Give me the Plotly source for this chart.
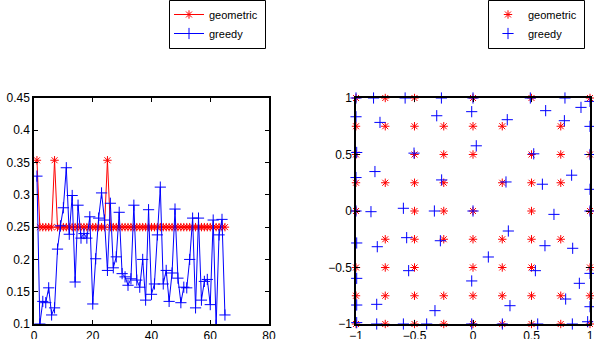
import plotly.graph_objects as go

# ---------------- data ----------------
idx = list(range(1, 66))

geometric_vals = [0.3536 if i in (1, 7, 25) else 0.25 for i in idx]

greedy_vals = [
    0.329, 0.100, 0.135, 0.133, 0.156, 0.114, 0.125, 0.216, 0.252, 0.280,
    0.342, 0.239, 0.299, 0.165, 0.284, 0.233, 0.240, 0.233, 0.266, 0.131,
    0.201, 0.264, 0.303, 0.261, 0.183, 0.287, 0.187, 0.204, 0.273, 0.178,
    0.173, 0.160, 0.170, 0.284, 0.168, 0.157, 0.200, 0.137, 0.277, 0.146,
    0.162, 0.238, 0.312, 0.162, 0.183, 0.135, 0.179, 0.278, 0.171, 0.133,
    0.157, 0.156, 0.200, 0.264, 0.125, 0.264, 0.137, 0.166, 0.169, 0.130,
    0.261, 0.098, 0.238, 0.262, 0.114,
]

# geometric points (right panel), row by row
geo_rows = [
    (1.0,   [-1, -0.75, -0.5, 0, 0.5, 1]),
    (0.75,  [-1, -0.75, -0.5, -0.25, 0, 0.25, 0.75]),
    (0.5,   [-1, -0.5, -0.25, 0, 0.5, 0.75, 1]),
    (0.25,  [-1, -0.75, -0.5, -0.25, 0.25, 0.5, 0.75]),
    (0.0,   [-1, -0.5, -0.25, 0, 0.5, 1]),
    (-0.25, [-0.75, -0.5, -0.25, 0, 0.25, 0.5, 0.75]),
    (-0.5,  [-1, -0.75, -0.5, 0, 0.25, 0.5, 1]),
    (-0.75, [-1, -0.75, -0.5, -0.25, 0, 0.25, 0.5, 0.75, 1]),
    (-1.0,  [-1, -0.75, -0.5, -0.25, 0, 0.25, 0.5, 0.75, 1]),
]
geo_x = [x for y, xs in geo_rows for x in xs]
geo_y = [y for y, xs in geo_rows for x in xs]

greedy_x = [
    -1, -0.85, -0.58, -0.27, 0, 0.49, 0.786, 1,
    -1, -0.795, -0.31, -0.011, 0.293, 0.621, 0.923, 0.781, 1,
    -0.994, -0.504, 0.028, 0.519, 1,
    -1, -0.838, -0.268, 0.282, 0.593, 0.843, 1,
    -1, -0.872, -0.595, -0.33, 0, 0.692, 1,
    -0.994, -0.818, -0.567, -0.279, 0.302, 0.615, 0.852, 0.131,
    -0.55, 0.533, -0.994, -0.011, 0.909, 1,
    -0.994, -0.823, -0.325, 0.316, 0.792, 1,
    -0.994, -0.823, -0.595, -0.396, -0.011, 0.251, 0.553, 0.849, 0.98,
]
greedy_y = [
    1, 1, 1, 1, 1, 1, 1, 0.97,
    0.834, 0.784, 0.843, 0.879, 0.808, 0.888, 0.917, 0.799, 0.749,
    0.518, 0.512, 0.577, 0.506, 0.5,
    0.296, 0.349, 0.275, 0.257, 0.237, 0.317, 0.192,
    0, -0.006, 0.024, 0, 0, -0.03, 0,
    -0.283, -0.316, -0.236, -0.263, -0.177, -0.307, -0.330, -0.407,
    -0.528, -0.528, -0.596, -0.619, -0.640, -0.552,
    -0.832, -0.826, -0.882, -0.838, -0.779, -0.847,
    -0.988, -1, -1, -1, -1, -1, -1, -1, -0.98,
]

left_xticks = [0, 20, 40, 60, 80]
left_yticks = [0.1, 0.15, 0.2, 0.25, 0.3, 0.35, 0.4, 0.45]
right_ticks = [-1, -0.5, 0, 0.5, 1]

RED = "#ff0000"
BLUE = "#0000ff"
FONT = "Liberation Sans, Arial, sans-serif"

STAR = dict(symbol="asterisk-open", size=7, color=RED, line=dict(color=RED, width=1))
PLUS = dict(symbol="cross-thin-open", size=8, color=BLUE, line=dict(color=BLUE, width=1))

fig = go.Figure()

fig.add_trace(go.Scatter(
    x=idx, y=geometric_vals, mode="lines+markers", name="geometric",
    line=dict(color=RED, width=1), marker=STAR,
    xaxis="x", yaxis="y", legend="legend",
))
fig.add_trace(go.Scatter(
    x=idx, y=greedy_vals, mode="lines+markers", name="greedy",
    line=dict(color=BLUE, width=1), marker=PLUS,
    xaxis="x", yaxis="y", legend="legend",
))
fig.add_trace(go.Scatter(
    x=geo_x, y=geo_y, mode="markers", name="geometric", marker=STAR,
    xaxis="x2", yaxis="y2", legend="legend2", cliponaxis=False,
))
fig.add_trace(go.Scatter(
    x=greedy_x, y=greedy_y, mode="markers", name="greedy", marker=PLUS,
    xaxis="x2", yaxis="y2", legend="legend2", cliponaxis=False,
))

W, H = 594, 339
ydom = [1 - 324 / H, 1 - 98 / H]

axis_common = dict(
    showline=True, linecolor="black", linewidth=1.5, mirror="allticks",
    ticks="inside", ticklen=4, tickcolor="black", tickwidth=1,
    showgrid=False, zeroline=False, automargin=False,
    tickfont=dict(family=FONT, size=12, color="black"),
)

legend_common = dict(
    xanchor="left", yanchor="top",
    borderwidth=0, bgcolor="rgba(255,255,255,0)",
    font=dict(family=FONT, size=11, color="black"),
    tracegroupgap=0, itemwidth=30,
)

# legend frames drawn as paper-space rectangles (pixel positions of the boxes)
def box(x0, x1, y0, y1):
    return dict(type="rect", xref="paper", yref="paper", layer="above",
                x0=x0 / W, x1=x1 / W, y0=1 - y1 / H, y1=1 - y0 / H,
                line=dict(color="black", width=1), fillcolor="rgba(0,0,0,0)")

fig.update_layout(
    width=W, height=H,
    margin=dict(l=0, r=0, t=0, b=0),
    paper_bgcolor="white", plot_bgcolor="white",
    font=dict(family=FONT, size=11, color="black"),
    modebar=dict(bgcolor="rgba(0,0,0,0)", color="rgba(0,0,0,0)",
                 activecolor="rgba(0,0,0,0)"),
    xaxis=dict(domain=[34 / W, 269 / W], range=[0, 80], tickvals=left_xticks,
               ticktext=[str(v) for v in left_xticks], anchor="y", **axis_common),
    yaxis=dict(domain=ydom, range=[0.1, 0.45], tickvals=left_yticks,
               ticktext=["0.1", "0.15", "0.2", "0.25", "0.3", "0.35", "0.4", "0.45"],
               anchor="x", **axis_common),
    xaxis2=dict(domain=[356 / W, 590 / W], range=[-1, 1], tickvals=right_ticks,
                ticktext=["\u22121", "\u22120.5", "0", "0.5", "1"], anchor="y2", **axis_common),
    yaxis2=dict(domain=ydom, range=[-1, 1], tickvals=right_ticks,
                ticktext=["\u22121", "\u22120.5", "0", "0.5", "1"], anchor="x2", **axis_common),
    legend=dict(x=169 / W, y=1.0, **legend_common),
    legend2=dict(x=488 / W, y=1.0, **legend_common),
    shapes=[box(169.5, 265.5, 0.5, 48.5), box(488.5, 584.5, 0.5, 48.5)],
    showlegend=True,
)

fig.write_html(
    "out.html",
    post_script=(
        "document.body.style.margin='0';document.body.style.overflow='hidden';"
        "var s=document.createElement('style');"
        "s.textContent='.modebar-container{display:none !important;}';"
        "document.head.appendChild(s);"
    ),
)
